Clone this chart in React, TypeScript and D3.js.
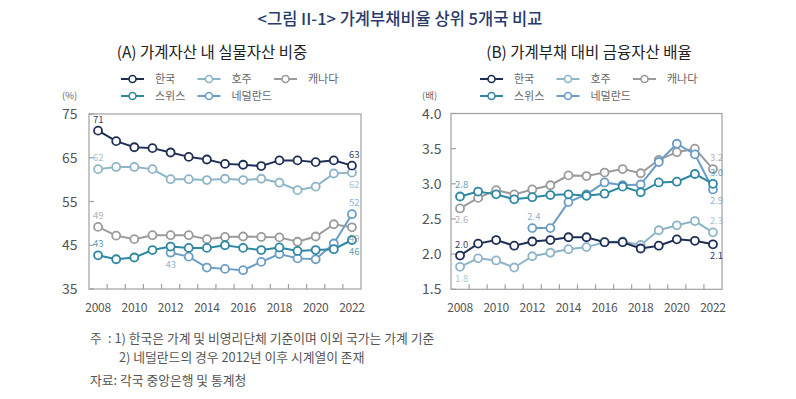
import React from "react";
import * as d3 from "d3";

const years = [2008, 2009, 2010, 2011, 2012, 2013, 2014, 2015, 2016, 2017, 2018, 2019, 2020, 2021, 2022];
const seriesNames = ["한국", "호주", "캐나다", "스위스", "네덜란드"];
const seriesColors = ["#1f2e55", "#8db5c7", "#9b9b9b", "#2e87a3", "#6c9dc6"];

// (A) 가계자산 내 실물자산 비중 (%)
const krA = [71.2, 68.8, 67.4, 67.2, 66.2, 65.2, 64.6, 63.6, 63.4, 63.1, 64.4, 64.4, 64.0, 64.4, 63.2];
const auA = [62.4, 62.9, 62.9, 62.4, 60.1, 60.1, 59.9, 60.2, 59.9, 60.2, 59.3, 57.6, 58.4, 61.4, 61.6];
const caA = [49.2, 47.2, 46.4, 47.3, 47.3, 47.3, 46.4, 46.9, 47.0, 46.9, 46.8, 45.8, 47.0, 49.8, 49.1];
const chA = [42.7, 41.8, 42.2, 43.9, 44.7, 44.4, 44.4, 45.0, 44.4, 43.9, 44.5, 43.7, 43.9, 44.1, 46.2];
const nlA = [null, null, null, null, 43.3, 42.4, 39.9, 39.6, 39.3, 41.2, 43.0, 42.0, 41.8, 45.4, 52.1];
const ticksA = [35, 45, 55, 65, 75];
const tickLabelsA = ["35", "45", "55", "65", "75"];

// (B) 가계부채 대비 금융자산 배율 (배)
const krB = [1.98, 2.15, 2.20, 2.12, 2.18, 2.20, 2.24, 2.24, 2.17, 2.17, 2.08, 2.12, 2.21, 2.19, 2.14];
const auB = [1.82, 1.94, 1.91, 1.81, 1.97, 2.02, 2.07, 2.10, 2.17, 2.18, 2.13, 2.34, 2.41, 2.47, 2.31];
const caB = [2.65, 2.80, 2.91, 2.85, 2.92, 2.98, 3.12, 3.11, 3.16, 3.21, 3.15, 3.34, 3.45, 3.50, 3.21];
const chB = [2.82, 2.89, 2.85, 2.78, 2.81, 2.84, 2.85, 2.83, 2.86, 2.96, 2.88, 3.02, 3.03, 3.14, 3.00];
const nlB = [null, null, null, null, 2.37, 2.37, 2.74, 2.85, 3.02, 2.98, 2.99, 3.31, 3.57, 3.42, 2.92];
const ticksB = [1.5, 2.0, 2.5, 3.0, 3.5, 4.0];
const tickLabelsB = ["1.5", "2.0", "2.5", "3.0", "3.5", "4.0"];

// value labels: [series index, year index, text, above(true)/below(false)]
const labelsA: [number, number, string, boolean][] = [
  [0, 0, "71", true], [0, 14, "63", true],
  [1, 0, "62", true], [1, 14, "62", false],
  [2, 0, "49", true], [2, 14, "49", false],
  [3, 0, "43", true], [3, 14, "46", false],
  [4, 4, "43", false], [4, 14, "52", true],
];
const labelsB: [number, number, string, boolean][] = [
  [0, 0, "2.0", true], [0, 14, "2.1", false],
  [1, 0, "1.8", false], [1, 14, "2.3", true],
  [2, 0, "2.6", false], [2, 14, "3.2", true],
  [3, 0, "2.8", true], [3, 14, "3.0", true],
  [4, 4, "2.4", true], [4, 14, "2.9", false],
];

const FONT = "'Noto Sans CJK KR', 'Noto Sans', sans-serif";

type PanelProps = {
  left: number;
  right: number;
  top: number;
  bottom: number;
  domain: [number, number];
  ticks: number[];
  tickLabels: string[];
  tickLabelX: number;
  unit: string;
  title: string;
  titleX: number;
  series: (number | null)[][];
  labels: [number, number, string, boolean][];
  legendX: number;
};

function Panel(p: PanelProps) {
  const x = d3.scaleBand<number>().domain(years).range([p.left, p.right]).padding(0);
  const y = d3.scaleLinear().domain(p.domain).range([p.bottom, p.top]);
  const cx = (yr: number) => (x(yr) as number) + x.bandwidth() / 2;
  const line = d3
    .line<number | null>()
    .defined((d) => d !== null)
    .x((_, i) => cx(years[i]))
    .y((d) => y(d as number));
  const boundaries = years.slice(1).map((yr) => x(yr) as number);
  const legendItems = [
    { i: 0, col: 0, row: 0 },
    { i: 1, col: 1, row: 0 },
    { i: 2, col: 2, row: 0 },
    { i: 3, col: 0, row: 1 },
    { i: 4, col: 1, row: 1 },
  ];
  const drawOrder = [2, 1, 4, 3, 0];
  return (
    <g>
      <text x={p.titleX} y={58} textAnchor="middle" fontSize={15.5} fill="#222" fontFamily={FONT}>
        {p.title}
      </text>
      {legendItems.map((it) => {
        const lx = p.legendX + it.col * 76.5;
        const ly = 79 + it.row * 17;
        return (
          <g key={it.i}>
            <line x1={lx} x2={lx + 23} y1={ly} y2={ly} stroke={seriesColors[it.i]} strokeWidth={2} />
            <circle cx={lx + 11.5} cy={ly} r={3.5} fill="#fff" stroke={seriesColors[it.i]} strokeWidth={1.6} />
            <text x={lx + 34} y={ly} dy="0.35em" fontSize={11} fill="#666" fontFamily={FONT}>
              {seriesNames[it.i]}
            </text>
          </g>
        );
      })}
      <text x={p.tickLabelX} y={96} dy="0.35em" fontSize={9.5} fill="#666" fontFamily={FONT}>
        {p.unit}
      </text>
      <rect x={p.left} y={p.top} width={p.right - p.left} height={p.bottom - p.top} fill="none" stroke="#a0a0a0" strokeWidth={1.2} />
      {p.ticks.map((t, i) => (
        <g key={t}>
          <line x1={p.left} x2={p.left + 5} y1={y(t)} y2={y(t)} stroke="#a0a0a0" strokeWidth={1.2} />
          <text x={p.tickLabelX} y={y(t)} dy="0.36em" fontSize={14} fill="#555" fontFamily={FONT}>
            {p.tickLabels[i]}
          </text>
        </g>
      ))}
      {boundaries.map((bx, i) => (
        <line key={i} x1={bx} x2={bx} y1={p.bottom} y2={p.bottom - 5} stroke="#a0a0a0" strokeWidth={1.2} />
      ))}
      {years.map((yr) =>
        yr % 2 === 0 ? (
          <text key={yr} x={cx(yr)} y={p.bottom + 23} textAnchor="middle" fontSize={12} letterSpacing={-0.3} fill="#555" fontFamily={FONT}>
            {yr}
          </text>
        ) : null
      )}
      {drawOrder.map((si) => (
        <g key={si}>
          <path d={line(p.series[si]) || ""} fill="none" stroke={seriesColors[si]} strokeWidth={2} />
          {p.series[si].map((v, i) =>
            v === null ? null : (
              <circle key={i} cx={cx(years[i])} cy={y(v)} r={4} fill="#fff" stroke={seriesColors[si]} strokeWidth={1.8} />
            )
          )}
        </g>
      ))}
      {p.labels.map(([si, yi, txt, above], k) => {
        const v = p.series[si][yi] as number;
        const lx = cx(years[yi]) - (yi === 14 ? 3 : 5);
        const ly = above ? y(v) - 8 : y(v) + 15;
        return (
          <text key={k} x={lx} y={ly} fontSize={9.5} fill={seriesColors[si]} fillOpacity={si === 0 ? 0.95 : 0.8} fontFamily={FONT}>
            {txt}
          </text>
        );
      })}
    </g>
  );
}

export default function App() {
  return (
    <svg width={796} height={399} style={{ position: "absolute", left: 0, top: 0, background: "#fff" }} fontFamily={FONT}>
      <rect x={0} y={0} width={796} height={399} fill="#fff" />
      <text x={400} y={25} textAnchor="middle" fontSize={16.5} fontWeight={500} fill="#2a3a6a" fontFamily={FONT}>
        {"<그림 II-1> 가계부채비율 상위 5개국 비교"}
      </text>
      <Panel
        left={89}
        right={361}
        top={114}
        bottom={289}
        domain={[35, 75]}
        ticks={ticksA}
        tickLabels={tickLabelsA}
        tickLabelX={62}
        unit="(%)"
        title="(A) 가계자산 내 실물자산 비중"
        titleX={212}
        series={[krA, auA, caA, chA, nlA]}
        labels={labelsA}
        legendX={121}
      />
      <Panel
        left={451}
        right={722}
        top={113.5}
        bottom={289.3}
        domain={[1.5, 4.0]}
        ticks={ticksB}
        tickLabels={tickLabelsB}
        tickLabelX={422}
        unit="(배)"
        title="(B) 가계부채 대비 금융자산 배율"
        titleX={589}
        series={[krB, auB, caB, chB, nlB]}
        labels={labelsB}
        legendX={480}
      />
      <g fontSize={12.8} fill="#555" fontFamily={FONT}>
        <text x={90} y={343}>주</text>
        <text x={108} y={343}>: 1) 한국은 가계 및 비영리단체 기준이며 이외 국가는 가계 기준</text>
        <text x={119} y={362}>2) 네덜란드의 경우 2012년 이후 시계열이 존재</text>
        <text x={90} y={385}>자료: 각국 중앙은행 및 통계청</text>
      </g>
    </svg>
  );
}
